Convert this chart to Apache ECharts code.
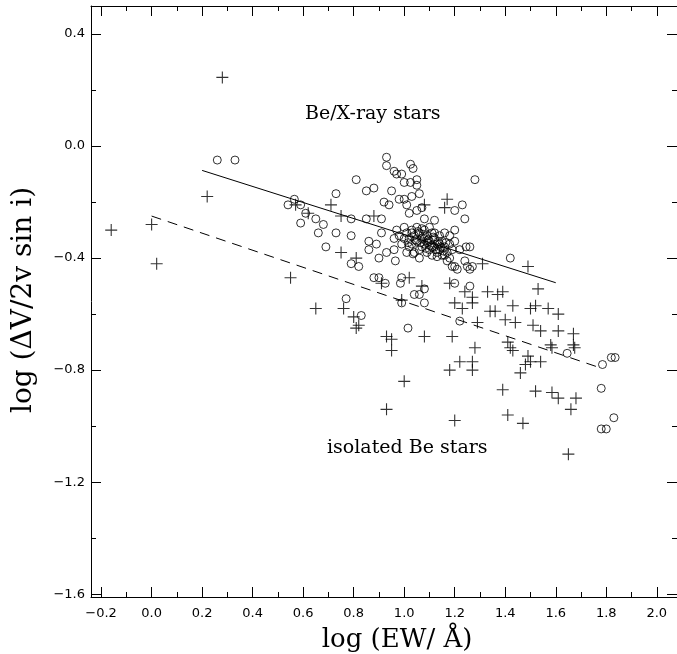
<!DOCTYPE html>
<html><head><meta charset="utf-8">
<script src="https://cdn.jsdelivr.net/npm/echarts@6/dist/echarts.min.js"></script>
<style>html,body{margin:0;padding:0;background:#fff}#c{width:677px;height:654px}</style>
</head><body><div id="c"></div>
<script>
// Be/X-ray binaries (open circles): [log EW, log(dV/2v sin i)]
const beXray = [
 [0.26,-0.05],[0.33,-0.05],[0.73,-0.17],[0.565,-0.19],[0.54,-0.21],[0.59,-0.21],[0.61,-0.24],[0.59,-0.275],
 [0.65,-0.26],[0.68,-0.28],[0.66,-0.31],[0.73,-0.31],[0.69,-0.36],
 [0.93,-0.04],[0.93,-0.07],[0.96,-0.09],[0.97,-0.10],[0.99,-0.10],[1.025,-0.065],[1.035,-0.08],
 [0.81,-0.12],[0.88,-0.15],[0.85,-0.16],[0.95,-0.16],[1.00,-0.13],[1.025,-0.13],[1.05,-0.12],[1.05,-0.14],
 [1.28,-0.12],[1.06,-0.17],[1.03,-0.18],[1.00,-0.19],[0.98,-0.19],[0.92,-0.20],[0.94,-0.21],[1.01,-0.21],
 [1.07,-0.22],[1.05,-0.23],[1.02,-0.24],[1.23,-0.21],[1.20,-0.23],[1.24,-0.26],[1.12,-0.265],[1.08,-0.26],
 [0.79,-0.26],[0.85,-0.26],[0.91,-0.26],[0.79,-0.32],[0.91,-0.31],[1.20,-0.30],[0.86,-0.34],[0.89,-0.35],
 [0.86,-0.37],[0.93,-0.38],[0.96,-0.37],[0.90,-0.40],[0.965,-0.41],[1.01,-0.38],[1.035,-0.385],[1.06,-0.40],
 [1.18,-0.40],[1.22,-0.37],[1.26,-0.36],[1.245,-0.36],[1.42,-0.40],[1.19,-0.43],[1.20,-0.43],[1.21,-0.44],
 [1.24,-0.41],[1.25,-0.43],[1.26,-0.44],[1.27,-0.43],[0.79,-0.42],[0.82,-0.43],[0.88,-0.47],[0.90,-0.47],
 [0.925,-0.49],[0.99,-0.47],[0.985,-0.49],[1.20,-0.49],[1.26,-0.50],[1.08,-0.51],[1.06,-0.53],[1.04,-0.53],
 [0.77,-0.545],[0.99,-0.56],[1.08,-0.56],[1.22,-0.625],[1.015,-0.65],[0.83,-0.605],
 [1.645,-0.74],[1.785,-0.78],[1.82,-0.755],[1.835,-0.755],[1.78,-0.865],[1.83,-0.97],[1.78,-1.01],[1.80,-1.01],
 [0.97,-0.30],[0.98,-0.32],[1.00,-0.29],[1.01,-0.31],[1.02,-0.33],[1.03,-0.30],[1.04,-0.32],[1.05,-0.34],
 [1.06,-0.31],[1.07,-0.33],[1.08,-0.35],[1.09,-0.32],[1.10,-0.34],[1.11,-0.36],[1.12,-0.33],[1.13,-0.35],
 [1.14,-0.37],[1.15,-0.34],[1.16,-0.36],[1.17,-0.38],[1.18,-0.35],[1.19,-0.37],[1.05,-0.29],[1.08,-0.30],
 [1.10,-0.29],[1.12,-0.31],[1.14,-0.32],[1.06,-0.37],[1.09,-0.38],[1.11,-0.39],[1.13,-0.38],[1.15,-0.39],
 [1.17,-0.41],[1.02,-0.36],[0.99,-0.35],[0.96,-0.33],[1.04,-0.38],[1.16,-0.31],[1.07,-0.36],[1.10,-0.37],
 [1.12,-0.36],[1.00,-0.33],[1.03,-0.35],[1.08,-0.33],[1.14,-0.35],[1.20,-0.34],[1.18,-0.32],
 [1.03,-0.31],[1.045,-0.335],[1.055,-0.305],[1.065,-0.345],[1.075,-0.315],[1.085,-0.365],[1.095,-0.335],
 [1.105,-0.355],[1.115,-0.325],[1.125,-0.37],[1.135,-0.34],[1.145,-0.36],[1.155,-0.375],[1.165,-0.345],
 [1.11,-0.31],[1.09,-0.345],[1.13,-0.395],[1.07,-0.295],[1.16,-0.39],[1.015,-0.345]
];
// isolated Be stars (plus signs)
const isolatedBe = [
 [-0.16,-0.30],[0.00,-0.28],[0.02,-0.42],[0.22,-0.18],[0.28,0.245],[0.55,-0.47],[0.65,-0.58],[0.57,-0.21],
 [0.62,-0.24],[0.71,-0.21],[0.75,-0.25],[0.88,-0.25],[1.08,-0.21],[1.17,-0.19],[1.16,-0.22],[0.75,-0.38],
 [0.81,-0.40],[1.02,-0.47],[0.91,-0.49],[1.07,-0.50],[1.31,-0.42],[1.49,-0.43],[1.18,-0.49],[1.24,-0.52],
 [1.27,-0.54],[1.33,-0.52],[1.39,-0.52],[1.37,-0.53],[0.99,-0.55],[1.20,-0.56],[1.23,-0.58],[1.27,-0.56],
 [1.34,-0.59],[1.36,-0.59],[1.40,-0.62],[1.43,-0.57],[1.44,-0.63],[0.76,-0.58],[0.80,-0.61],[0.82,-0.64],
 [0.81,-0.65],[1.29,-0.63],[0.93,-0.68],[0.95,-0.69],[0.95,-0.73],[1.08,-0.68],[1.19,-0.68],[1.00,-0.84],
 [0.93,-0.94],[1.20,-0.98],[1.28,-0.72],[1.22,-0.77],[1.27,-0.77],[1.18,-0.80],[1.27,-0.80],[1.39,-0.87],
 [1.41,-0.96],[1.47,-0.99],[1.41,-0.70],[1.42,-0.72],[1.46,-0.81],[1.53,-0.51],[1.50,-0.58],[1.52,-0.57],
 [1.57,-0.58],[1.61,-0.60],[1.51,-0.64],[1.54,-0.66],[1.61,-0.66],[1.67,-0.67],[1.67,-0.71],[1.675,-0.72],
 [1.58,-0.71],[1.585,-0.72],[1.43,-0.73],[1.49,-0.75],[1.50,-0.77],[1.48,-0.78],[1.54,-0.77],[1.52,-0.875],
 [1.585,-0.88],[1.61,-0.90],[1.68,-0.90],[1.66,-0.94],[1.65,-1.10]
];
// fitted relations
const fitXray = [[0.2,-0.087],[1.6,-0.488]];
const fitIsolated = [[0.0,-0.25],[1.77,-0.79]];
// axis ticks
const xMajorTicks = [-0.2,0.0,0.2,0.4,0.6,0.8,1.0,1.2,1.4,1.6,1.8,2.0];
const xMinorTicks = [-0.1,0.1,0.3,0.5,0.7,0.9,1.1,1.3,1.5,1.7,1.9];
const yMajorTicks = [-1.6,-1.2,-0.8,-0.4,0.0,0.4];
const yMinorTicks = [-1.4,-1.0,-0.6,-0.2,0.2];
const X_MIN=-0.24, X_MAX=2.08, Y_MIN=-1.61, Y_MAX=0.5;

const fmt = v => (v < -1e-9 ? '\u2212' : '') + Math.abs(v).toFixed(1);
const tickFont = {color:'#000', fontFamily:'DejaVu Sans', fontSize:13};
const lineStyle = {color:'#000', width:1};

function xAx(pos, ticks, len, labels, showLine){
  return {type:'value', position:pos, min:X_MIN, max:X_MAX, gridIndex:0,
    axisLine:{show:showLine, onZero:false, lineStyle},
    axisTick:{show:true, inside:true, length:len, customValues:ticks, lineStyle},
    axisLabel:labels ? Object.assign({show:true, customValues:ticks, formatter:fmt, margin:10}, tickFont) : {show:false},
    splitLine:{show:false}};
}
function yAx(pos, ticks, len, labels, showLine){
  return {type:'value', position:pos, min:Y_MIN, max:Y_MAX, gridIndex:0,
    axisLine:{show:showLine, onZero:false, lineStyle},
    axisTick:{show:true, inside:true, length:len, customValues:ticks, lineStyle},
    axisLabel:labels ? Object.assign({show:true, customValues:ticks, formatter:fmt, margin:6}, tickFont) : {show:false},
    splitLine:{show:false}};
}

const chart = echarts.init(document.getElementById('c'), null, {renderer:'canvas'});
chart.setOption({
  animation:false,
  backgroundColor:'#fff',
  grid:{left:91, top:6, width:586, height:591, containLabel:false},
  xAxis:[xAx('bottom',xMajorTicks,10,true,true), xAx('bottom',xMinorTicks,5,false,false),
         xAx('top',xMajorTicks,10,false,true), xAx('top',xMinorTicks,5,false,false)],
  yAxis:[yAx('left',yMajorTicks,10,true,true), yAx('left',yMinorTicks,5,false,false),
         yAx('right',yMajorTicks,10,false,true), yAx('right',yMinorTicks,5,false,false)],
  series:[
    {name:'Be/X-ray stars', type:'scatter', data:beXray, symbol:'circle', symbolSize:8,
     itemStyle:{color:'rgba(0,0,0,0)', borderColor:'#000', borderWidth:1}},
    {name:'isolated Be stars', type:'scatter', data:isolatedBe, symbol:'path://M5,0L5,10M0,5L10,5', symbolSize:12,
     itemStyle:{color:'rgba(0,0,0,0)', borderColor:'#000', borderWidth:1.1}},
    {type:'line', data:fitXray, symbol:'none', lineStyle:{color:'#000', width:1}},
    {type:'line', data:fitIsolated, symbol:'none', lineStyle:{color:'#000', width:1, type:[10,7]}}
  ],
  graphic:[
    {type:'text', left:305, top:105, style:{text:'Be/X-ray stars', fill:'#000', font:'19px "DejaVu Serif"'}},
    {type:'text', left:327, top:439, style:{text:'isolated Be stars', fill:'#000', font:'19px "DejaVu Serif"'}},
    {type:'text', x:397, y:640, style:{text:'log (EW/ \u00C5)', fill:'#000', font:'26px "DejaVu Serif"', align:'center', verticalAlign:'middle'}},
    {type:'text', x:24, y:300, rotation:Math.PI/2, style:{text:'log (\u0394V/2v sin i)', fill:'#000', font:'28px "DejaVu Serif"', align:'center', verticalAlign:'middle'}}
  ]
});
</script></body></html>
